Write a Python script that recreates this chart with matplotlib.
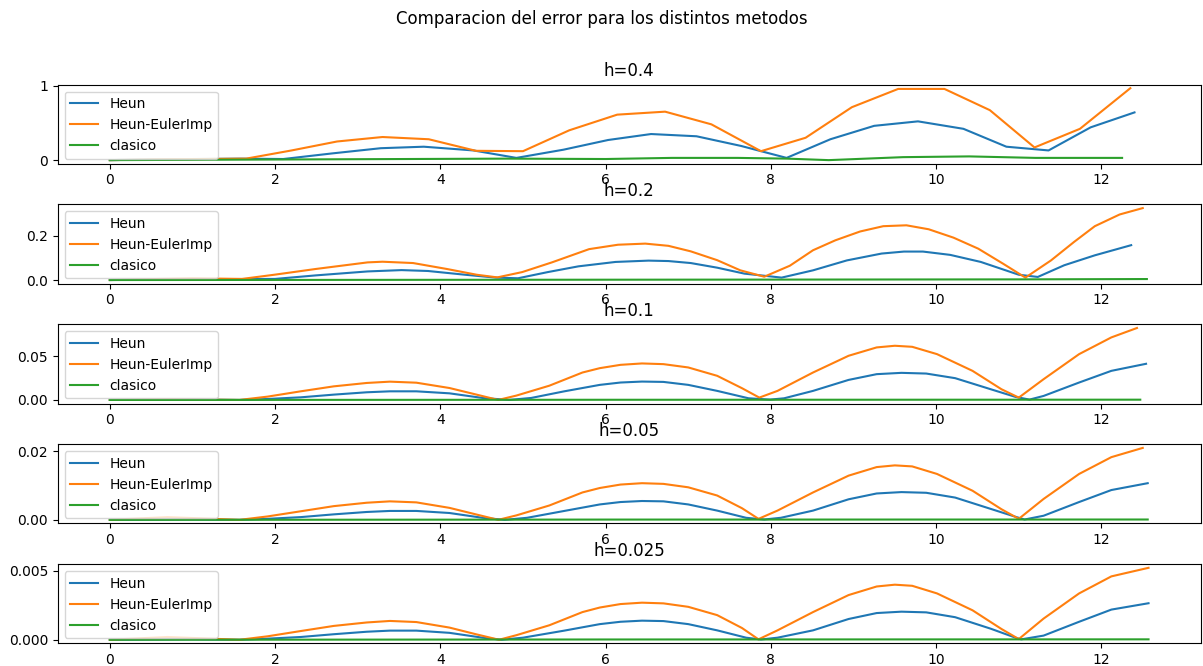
import matplotlib.pyplot as plt

labels = ["Heun", "Heun-EulerImp", "clasico"]
titles = ["h=0.4", "h=0.2", "h=0.1", "h=0.05", "h=0.025"]

# h = 0.4
t_heun_04 = [0, 0.52, 1.05, 1.58, 2.1, 2.69, 3.28, 3.8, 4.4, 4.92, 5.49, 6.03,
             6.55, 7.1, 7.64, 8.19, 8.72, 9.25, 9.78, 10.33, 10.85, 11.36, 11.87, 12.4]
heun_04 = [0.0, 0.01, 0.015, 0.02, 0.015, 0.09, 0.16, 0.18, 0.13, 0.03, 0.14, 0.27,
           0.35, 0.32, 0.19, 0.03, 0.28, 0.46, 0.52, 0.42, 0.18, 0.13, 0.44, 0.64]
t_euler_04 = [0, 0.56, 1.12, 1.65, 2.2, 2.75, 3.3, 3.86, 4.43, 5.0, 5.56, 6.14,
              6.72, 7.28, 7.88, 8.42, 8.98, 9.54, 10.1, 10.65, 11.19, 11.74, 12.35]
euler_04 = [0.0, 0.01, 0.015, 0.02, 0.13, 0.25, 0.31, 0.28, 0.125, 0.12, 0.40, 0.61,
            0.65, 0.48, 0.12, 0.30, 0.71, 0.955, 0.955, 0.67, 0.17, 0.42, 0.965]
t_clas_04 = [0, 1.2, 2.4, 3.6, 4.8, 6.0, 6.8, 7.6, 8.2, 8.7, 9.6, 10.4, 11.2, 11.8, 12.25]
clas_04 = [0.0, 0.005, 0.01, 0.015, 0.02, 0.015, 0.03, 0.03, 0.02, 0.0, 0.04, 0.05,
           0.03, 0.03, 0.03]

# h = 0.2
t_heun_02 = [0, 1.0, 2.0, 2.49, 3.12, 3.53, 3.85, 4.3, 4.67, 4.94, 5.3, 5.67, 6.12,
             6.52, 6.76, 7.03, 7.35, 7.68, 8.13, 8.51, 8.92, 9.34, 9.61, 9.84, 10.17,
             10.54, 11.0, 11.23, 11.55, 11.92, 12.36]
heun_02 = [0.0, 0.004, 0.005, 0.021, 0.039, 0.045, 0.041, 0.024, 0.011, 0.008, 0.036,
           0.062, 0.082, 0.088, 0.086, 0.077, 0.056, 0.029, 0.011, 0.044, 0.089, 0.12,
           0.129, 0.129, 0.114, 0.082, 0.024, 0.014, 0.067, 0.112, 0.158]
t_euler_02 = [0, 1.0, 1.6, 1.99, 2.49, 3.12, 3.3, 3.67, 4.08, 4.44, 4.69, 4.99, 5.35,
              5.8, 6.15, 6.48, 6.76, 7.03, 7.35, 7.63, 7.92, 8.23, 8.51, 8.78, 9.08,
              9.36, 9.64, 9.91, 10.21, 10.51, 10.81, 11.08, 11.39, 11.67, 11.92,
              12.22, 12.5]
euler_02 = [0.0, 0.008, 0.005, 0.024, 0.05, 0.08, 0.083, 0.077, 0.05, 0.024, 0.012,
            0.036, 0.08, 0.14, 0.16, 0.165, 0.155, 0.13, 0.09, 0.044, 0.015, 0.065,
            0.135, 0.18, 0.22, 0.244, 0.248, 0.23, 0.192, 0.142, 0.074, 0.011, 0.089,
            0.173, 0.244, 0.297, 0.326]
t_clas_02 = [0, 4.0, 8.0, 11.0, 12.55]
clas_02 = [0.0, 0.001, 0.002, 0.003, 0.0045]

# h = 0.1
t_heun_01 = [0, 1.0, 1.57, 1.91, 2.31, 2.71, 3.11, 3.39, 3.71, 4.11, 4.51, 4.83, 5.1,
             5.5, 5.93, 6.18, 6.44, 6.7, 7.0, 7.35, 7.73, 7.99, 8.16, 8.51, 8.94, 9.28,
             9.58, 9.88, 10.23, 10.66, 10.96, 11.13, 11.3, 11.73, 12.12, 12.54]
heun_01 = [0.0, 0.0005, 0.0, 0.0011, 0.003, 0.0061, 0.0088, 0.0099, 0.0099, 0.0076,
           0.0023, 0.0, 0.0023, 0.0099, 0.0173, 0.020, 0.0211, 0.0207, 0.0173, 0.0104,
           0.0019, 0.0004, 0.0019, 0.0104, 0.023, 0.0296, 0.0311, 0.0303, 0.025, 0.0123,
           0.0035, 0.0004, 0.0046, 0.020, 0.0334, 0.0415]
t_euler_01 = [0, 0.7, 1.57, 1.91, 2.31, 2.71, 3.11, 3.39, 3.71, 4.11, 4.43, 4.7, 4.92,
              5.32, 5.72, 5.93, 6.18, 6.44, 6.7, 7.0, 7.35, 7.65, 7.86, 8.08, 8.51,
              8.94, 9.28, 9.5, 9.71, 10.01, 10.44, 10.79, 11.0, 11.3, 11.73, 12.12, 12.43]
euler_01 = [0.0, 0.0008, 0.0, 0.0038, 0.0099, 0.0156, 0.0195, 0.021, 0.0198, 0.0137,
            0.0063, 0.0, 0.005, 0.0164, 0.0315, 0.0365, 0.0403, 0.0419, 0.0411, 0.0373,
            0.0277, 0.0135, 0.0027, 0.0104, 0.0315, 0.0507, 0.0603, 0.0622, 0.061,
            0.0526, 0.0334, 0.0123, 0.0027, 0.0238, 0.0526, 0.0718, 0.0826]
t_clas_01 = [0, 6.0, 12.47]
clas_01 = [0.0, 0.0002, 0.0003]

# h = 0.05
t_heun_005 = [0, 1.0, 1.57, 1.91, 2.31, 2.71, 3.11, 3.39, 3.71, 4.11, 4.51, 4.78, 5.05,
              5.5, 5.93, 6.18, 6.44, 6.7, 7.0, 7.35, 7.7, 7.92, 8.12, 8.51, 8.94, 9.28,
              9.58, 9.88, 10.23, 10.66, 10.96, 11.07, 11.3, 11.73, 12.12, 12.56]
heun_005 = [0.0, 0.0001, 0.0, 0.0003, 0.0008, 0.0016, 0.0023, 0.0026, 0.0026, 0.002,
            0.0006, 0.0, 0.0006, 0.0026, 0.0045, 0.0052, 0.0055, 0.0054, 0.0045, 0.0027,
            0.0006, 0.0001, 0.0006, 0.0027, 0.006, 0.0077, 0.0081, 0.0079, 0.0065,
            0.0032, 0.0009, 0.0001, 0.0012, 0.0052, 0.0087, 0.0107]
t_euler_005 = [0, 0.7, 1.57, 1.91, 2.31, 2.71, 3.11, 3.39, 3.71, 4.11, 4.43, 4.7, 4.92,
               5.32, 5.72, 5.93, 6.18, 6.44, 6.7, 7.0, 7.35, 7.65, 7.85, 8.08, 8.51,
               8.94, 9.28, 9.5, 9.71, 10.01, 10.44, 10.79, 11.0, 11.3, 11.73, 12.12, 12.5]
euler_005 = [0.0, 0.0008, 0.0, 0.001, 0.0025, 0.004, 0.005, 0.0054, 0.0051, 0.0035,
             0.0016, 0.0, 0.0013, 0.0042, 0.008, 0.0093, 0.0103, 0.0107, 0.0105, 0.0095,
             0.0071, 0.0034, 0.0003, 0.0027, 0.008, 0.0129, 0.0154, 0.0159, 0.0156,
             0.0134, 0.0085, 0.0031, 0.0003, 0.0061, 0.0134, 0.0183, 0.021]
t_clas_005 = [0, 6.0, 12.56]
clas_005 = [0.0, 0.00008, 0.0001]

# h = 0.025
t_heun_0025 = [0, 1.0, 1.57, 1.91, 2.31, 2.71, 3.11, 3.39, 3.71, 4.11, 4.51, 4.74, 5.0,
               5.5, 5.93, 6.18, 6.44, 6.7, 7.0, 7.35, 7.7, 7.88, 8.08, 8.51, 8.94, 9.28,
               9.58, 9.88, 10.23, 10.66, 10.96, 11.03, 11.3, 11.73, 12.12, 12.57]
heun_0025 = [0.0, 0.00003, 0.0, 0.00008, 0.0002, 0.0004, 0.00058, 0.00066, 0.00066,
             0.0005, 0.00015, 0.0, 0.00015, 0.00066, 0.00113, 0.0013, 0.00138, 0.00135,
             0.00113, 0.00068, 0.00015, 0.00002, 0.00015, 0.00068, 0.0015, 0.00193,
             0.00203, 0.00198, 0.00163, 0.0008, 0.00015, 0.00003, 0.0003, 0.0013,
             0.00218, 0.00264]
t_euler_0025 = [0, 0.7, 1.57, 1.91, 2.31, 2.71, 3.11, 3.39, 3.71, 4.11, 4.43, 4.71, 4.92,
                5.32, 5.72, 5.93, 6.18, 6.44, 6.7, 7.0, 7.35, 7.65, 7.85, 8.08, 8.51,
                8.94, 9.28, 9.5, 9.71, 10.01, 10.44, 10.79, 11.0, 11.3, 11.73, 12.12, 12.57]
euler_0025 = [0.0, 0.0002, 0.0, 0.00025, 0.00063, 0.001, 0.00125, 0.00136, 0.00128,
              0.00088, 0.0004, 0.0, 0.00033, 0.00105, 0.002, 0.00233, 0.00258, 0.00268,
              0.00263, 0.00238, 0.00178, 0.00085, 0.00003, 0.00068, 0.002, 0.00323,
              0.00385, 0.00398, 0.0039, 0.00335, 0.00213, 0.00078, 0.00005, 0.00153,
              0.00335, 0.00458, 0.0052]
t_clas_0025 = [0, 6.0, 12.57]
clas_0025 = [0.0, 0.00002, 0.00003]

series = [
    [(t_heun_04, heun_04), (t_euler_04, euler_04), (t_clas_04, clas_04)],
    [(t_heun_02, heun_02), (t_euler_02, euler_02), (t_clas_02, clas_02)],
    [(t_heun_01, heun_01), (t_euler_01, euler_01), (t_clas_01, clas_01)],
    [(t_heun_005, heun_005), (t_euler_005, euler_005), (t_clas_005, clas_005)],
    [(t_heun_0025, heun_0025), (t_euler_0025, euler_0025), (t_clas_0025, clas_0025)],
]

fig, axes = plt.subplots(5, 1, figsize=(12.03, 6.66), dpi=100)
fig.subplots_adjust(left=0.048, right=0.998, top=0.873, bottom=0.034, hspace=0.515)
fig.suptitle("Comparacion del error para los distintos metodos", y=0.985)

for ax, title, data in zip(axes, titles, series):
    for (t, e), lab in zip(data, labels):
        ax.plot(t, e, label=lab)
    ax.set_title(title)
    ax.set_xlim(-0.63, 13.2)
    ax.legend(loc="upper left")

fig.savefig("out.png")
